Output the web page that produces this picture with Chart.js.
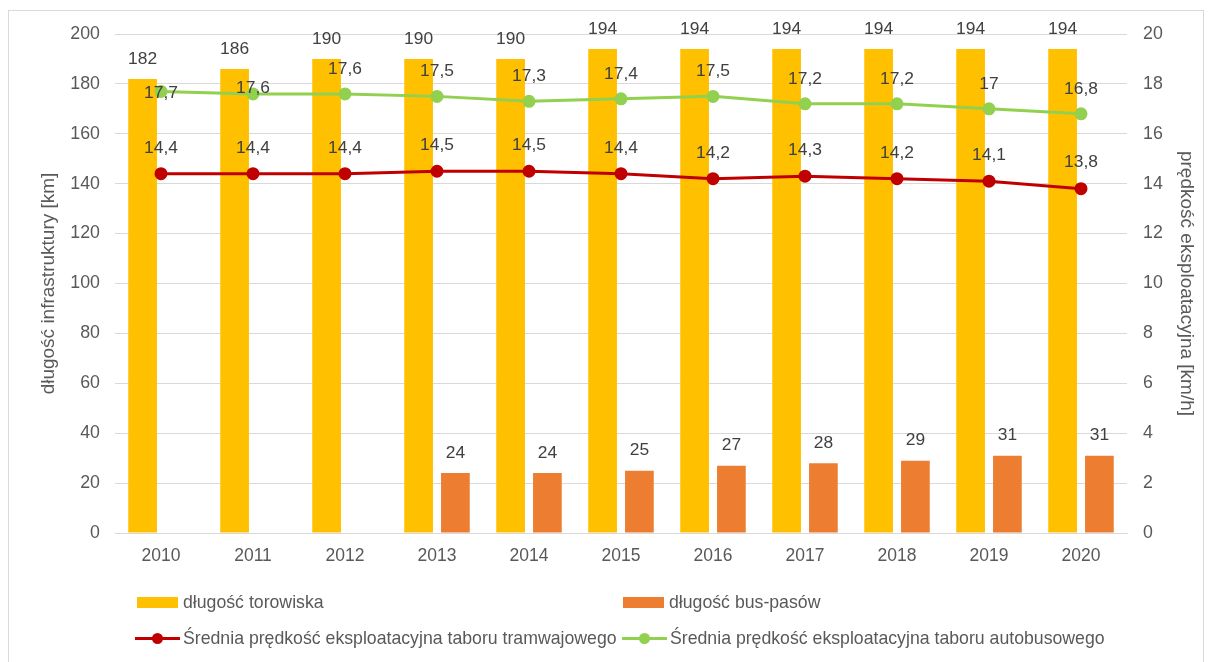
<!DOCTYPE html>
<html lang="pl">
<head>
<meta charset="utf-8">
<script src="https://cdn.jsdelivr.net/npm/chart.js@4/dist/chart.umd.min.js"></script>
<style>
  body { margin: 0; background: #fff; font-family: "Liberation Sans", Arial, sans-serif; }
  #wrap { position: relative; width: 1210px; height: 662px; }
  #frame { position: absolute; left: 8px; top: 10px; width: 1194px; height: 660px; border: 1px solid #d9d9d9; }
  canvas { position: absolute; left: 0; top: 0; }
  .leg { position: absolute; display: flex; align-items: center; font-size: 17.7px; color: #595959; white-space: nowrap; }
  .leg .box { width: 41px; height: 11px; margin-right: 5px; }
  .leg .ln { position: relative; width: 45px; height: 3px; margin-right: 3px; }
  .leg .ln i { position: absolute; left: 17px; top: -4px; width: 11px; height: 11px; border-radius: 50%; }
</style>
</head>
<body>
<div id="wrap">
  <div id="frame"></div>
  <canvas id="chart" width="1210" height="662"></canvas>
  <div id="legend"></div>
</div>
<script>
// dane
const years = ['2010', '2011', '2012', '2013', '2014', '2015', '2016', '2017', '2018', '2019', '2020'];
const torowisko = [182, 186, 190, 190, 190, 194, 194, 194, 194, 194, 194];
const busPasy = [null, null, null, 24, 24, 25, 27, 28, 29, 31, 31];
const predkoscTram = [14.4, 14.4, 14.4, 14.5, 14.5, 14.4, 14.2, 14.3, 14.2, 14.1, 13.8];
const predkoscBus = [17.7, 17.6, 17.6, 17.5, 17.3, 17.4, 17.5, 17.2, 17.2, 17, 16.8];
const leftTicks = [0, 20, 40, 60, 80, 100, 120, 140, 160, 180, 200];
const rightTicks = [0, 2, 4, 6, 8, 10, 12, 14, 16, 18, 20];

const FONT = '"Liberation Sans", Arial, sans-serif';
const TXT = '#595959';
const GRID = '#d9d9d9';

// etykiety danych nad słupkami / punktami
const labelOffsets = [20, 20, 26, 25];
const busLabelShift = { 0: -2, 1: 6 }; // w Excelu te dwie etykiety są przesunięte

const dataLabels = {
    id: 'dataLabels',
    afterDatasetsDraw(chart) {
        const ctx = chart.ctx;
        ctx.save();
        ctx.font = '17.4px ' + FONT;
        ctx.fillStyle = '#404040';
        ctx.textAlign = 'center';
        ctx.textBaseline = 'middle';
        chart.data.datasets.forEach((ds, i) => {
            const meta = chart.getDatasetMeta(i);
            meta.data.forEach((el, j) => {
                const v = ds.data[j];
                if (v === null || v === undefined) return;
                let off = labelOffsets[i];
                if (i === 3 && busLabelShift[j] !== undefined) off = busLabelShift[j];
                ctx.fillText(String(v).replace('.', ','), el.x, el.y - off);
            });
        });
        ctx.restore();
    }
};

const ctx = document.getElementById('chart');
const chart = new Chart(ctx, {
    type: 'bar',
    data: {
        labels: years,
        datasets: [{
            label: 'długość torowiska',
            data: torowisko,
            backgroundColor: '#FFC000',
            yAxisID: 'y',
            order: 2,
            categoryPercentage: 0.8,
            barPercentage: 0.78
        }, {
            label: 'długość bus-pasów',
            data: busPasy,
            backgroundColor: '#ED7D31',
            yAxisID: 'y',
            order: 2,
            categoryPercentage: 0.8,
            barPercentage: 0.78
        }, {
            type: 'line',
            label: 'Średnia prędkość eksploatacyjna taboru tramwajowego',
            data: predkoscTram,
            borderColor: '#C00000',
            backgroundColor: '#C00000',
            borderWidth: 3,
            pointRadius: 5,
            pointHoverRadius: 5,
            tension: 0,
            yAxisID: 'y1',
            order: 1
        }, {
            type: 'line',
            label: 'Średnia prędkość eksploatacyjna taboru autobusowego',
            data: predkoscBus,
            borderColor: '#92D050',
            backgroundColor: '#92D050',
            borderWidth: 3,
            pointRadius: 5,
            pointHoverRadius: 5,
            tension: 0,
            yAxisID: 'y1',
            order: 1
        }]
    },
    options: {
        responsive: false,
        devicePixelRatio: 1,
        animation: false,
        layout: { padding: { left: 33, right: 8, top: 34, bottom: 89 } },
        plugins: {
            legend: { display: false },
            tooltip: { enabled: false }
        },
        scales: {
            x: {
                grid: { display: false, drawTicks: false },
                border: { color: GRID, width: 1 },
                ticks: { color: TXT, font: { family: FONT, size: 17.5 }, padding: 13 },
                afterFit(s) { s.height = 40; }
            },
            y: {
                position: 'left',
                min: 0, max: 200,
                afterBuildTicks(s) { s.ticks = leftTicks.map(v => ({ value: v })); },
                grid: { color: GRID, drawTicks: false },
                border: { display: false },
                ticks: { color: TXT, font: { family: FONT, size: 17.8 }, padding: 15 },
                title: { display: true, text: 'długość infrastruktury [km]', color: TXT, font: { family: FONT, size: 19 } },
                afterFit(s) { s.width = 115 - 33; }
            },
            y1: {
                position: 'right',
                min: 0, max: 20,
                afterBuildTicks(s) { s.ticks = rightTicks.map(v => ({ value: v })); },
                grid: { drawOnChartArea: false, drawTicks: false },
                border: { display: false },
                ticks: { color: TXT, font: { family: FONT, size: 17.8 }, padding: 16 },
                title: { display: true, text: 'prędkość eksploatacyjna [km/h]', color: TXT, font: { family: FONT, size: 19 } },
                afterFit(s) { s.width = 1210 - 8 - 1127; }
            }
        }
    },
    plugins: [dataLabels]
});

// legenda (2 x 2, jak w Excelu)
const legendPos = [
    { left: 137, top: 602 }, { left: 623, top: 602 },
    { left: 135, top: 638 }, { left: 622, top: 638 }
];
const legendEl = document.getElementById('legend');
chart.data.datasets.forEach((ds, i) => {
    const item = document.createElement('div');
    item.className = 'leg';
    item.style.left = legendPos[i].left + 'px';
    item.style.top = (legendPos[i].top - 10) + 'px';
    item.style.height = '20px';
    const mark = document.createElement('span');
    if (ds.type === 'line') {
        mark.className = 'ln';
        mark.style.background = ds.borderColor;
        const dot = document.createElement('i');
        dot.style.background = ds.borderColor;
        mark.appendChild(dot);
    } else {
        mark.className = 'box';
        mark.style.background = ds.backgroundColor;
    }
    const txt = document.createElement('span');
    txt.textContent = ds.label;
    item.appendChild(mark);
    item.appendChild(txt);
    legendEl.appendChild(item);
});
</script>
</body>
</html>
